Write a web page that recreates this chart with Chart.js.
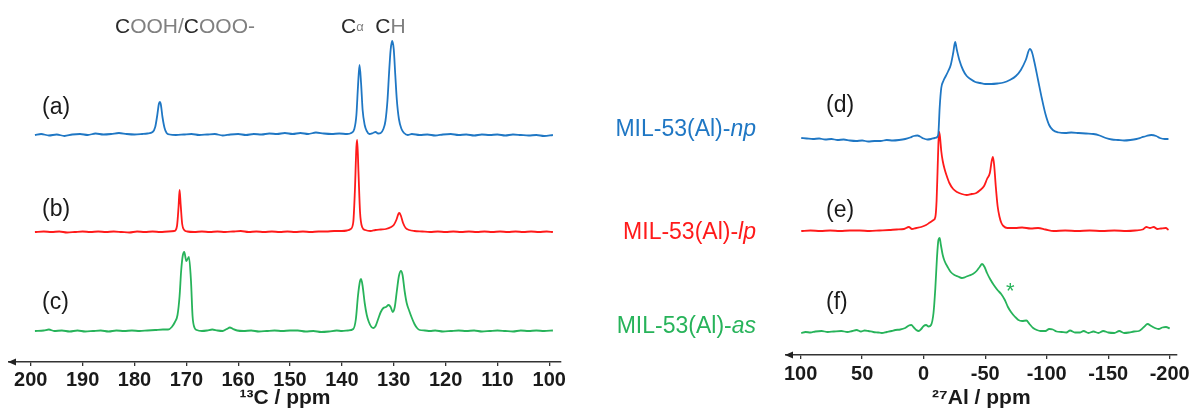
<!DOCTYPE html>
<html>
<head>
<meta charset="utf-8">
<script src="https://cdn.jsdelivr.net/npm/chart.js@4.4.1/dist/chart.umd.min.js"></script>
<style>
  html, body { margin:0; padding:0; background:#fff; width:1193px; height:416px; overflow:hidden; }
  #wrap { position:relative; width:1193px; height:416px; font-family:'Liberation Sans', Arial, sans-serif; }
  canvas { position:absolute; top:0; }
  .t { position:absolute; line-height:0; height:0; white-space:nowrap; }
</style>
</head>
<body>
<div id="wrap">
  <canvas id="c13" width="600" height="416" style="left:0"></canvas>
  <canvas id="al27" width="423" height="416" style="left:770px"></canvas>
</div>
<script>
// ---------- DATA (ppm, intensity above own baseline) ----------
const c13Ticks = [200,190,180,170,160,150,140,130,120,110,100];
const al27Ticks = [100,50,0,-50,-100,-150,-200];
const seriesNames = ['MIL-53(Al)-np','MIL-53(Al)-lp','MIL-53(Al)-as'];
const panelLetters13C = ['(a)','(b)','(c)'];
const panelLetters27Al = ['(d)','(e)','(f)'];
const c13Offsets = [227, 130, 31];
const al27Offsets = [217, 124, 22];

const c13_np = [[199.2,0],[198,1],[196.5,-0.5],[195,0.5],[193.5,-1],[192,0.5],[190.5,1],[189,0],[187.5,1.5],[186,0.5],[184.5,1],[183,2],[181.5,1],[180,0.5],[178.5,1],[177.5,1.5],[176.5,3],[176,8],[175.6,20],[175.3,31],[175.1,33],[174.9,30],[174.6,18],[174.2,7],[173.8,2],[173.2,0.5],[172,0],[170.5,0.5],[169,1],[167.5,0],[166,0.5],[164.5,1],[163,-0.5],[161.5,0.5],[160,1],[158.5,0],[157,1],[155.5,0.5],[154,1.5],[152.5,1],[151,2],[149.5,1],[148,2],[146.5,1],[145,2.5],[143.5,1.5],[142,1],[140.5,1.5],[139,1],[138.2,2],[137.6,6],[137.2,20],[136.9,48],[136.6,70],[136.3,52],[136,25],[135.6,10],[135.2,4],[134.7,1],[134,2],[133.5,3],[133,1.5],[132.5,2],[132,6],[131.6,14],[131.2,35],[130.9,62],[130.6,85],[130.3,94],[130,86],[129.7,60],[129.4,35],[129,16],[128.5,6],[128,2],[127.3,0],[126.5,1],[125,0],[123.5,0.5],[122,-0.5],[120.5,0.5],[119,1],[117.5,0],[116,0.5],[114.5,-0.5],[113,0.5],[111.5,0],[110,0.5],[108.5,-0.5],[107,0.5],[105.5,0],[104,-0.5],[102.5,0],[101,-1],[99.3,0]];

const c13_lp = [[199.2,0],[197.5,0.5],[196,0],[194.5,0.5],[193,-0.5],[191.5,0],[190,0.5],[188.5,0],[187,0.5],[185.5,0],[184,0.5],[182.5,0],[181,-0.5],[179.5,0.5],[178,0],[176.5,0.5],[175,0],[173.5,0.5],[172.3,1],[171.8,6],[171.5,25],[171.3,42],[171.1,28],[170.8,8],[170.4,2],[169.8,0.5],[168.5,0],[167,0.5],[165.5,0],[164,0.5],[162.5,0],[161,0.5],[159.5,1],[158,0],[156.5,0.5],[155,0],[153.5,0.5],[152,0],[150.5,0.5],[149,0],[147.5,0.5],[146,0],[144.5,0.5],[143,0.5],[141.5,1],[140,1],[139,1.5],[138.3,3],[137.8,10],[137.5,40],[137.2,85],[137.05,92],[136.8,60],[136.5,20],[136.1,5],[135.5,2],[134.5,1],[133.5,2],[132.5,2.5],[131.5,3],[130.5,5],[130,7],[129.5,12],[129.1,18],[128.9,19],[128.6,16],[128.2,9],[127.7,4],[127,2],[126,1],[124.5,0.5],[123,0],[121.5,0.5],[120,0],[118.5,0.5],[117,0],[115.5,0.5],[114,0],[112.5,0.5],[111,0],[109.5,0.5],[108,0],[106.5,0.5],[105,0],[103.5,0.5],[102,0],[100.5,0.5],[99.3,0]];

const c13_as = [[199.2,0],[197.5,0.5],[196.5,1.5],[195.5,0],[194,0.5],[192.5,-0.5],[191,0.5],[189.5,-0.5],[188,0],[186.5,0.5],[185,-0.5],[183.5,0.5],[182,0],[180.5,0.5],[179,0],[177.5,0.5],[176,1],[174.5,1.5],[173.5,1.5],[172.8,4],[172.2,9],[171.7,16],[171.3,35],[171,60],[170.7,75],[170.4,79],[170.0,70],[169.5,74],[169.1,50],[168.8,15],[168.4,3],[168,1],[167,0],[166,0.5],[165,1.5],[164,0.5],[163,0],[162.2,2],[161.6,3.5],[161,2],[160.2,0.5],[159,0],[157.5,0.5],[156,-0.5],[154.5,0],[153,0.5],[151.5,0],[150,0.5],[148.5,0.5],[147,-0.5],[145.5,0],[144,-1],[142.5,-0.5],[141,0.5],[140,0],[138.8,0.5],[137.8,2],[137.3,12],[136.9,35],[136.5,50],[136.3,52],[136,45],[135.6,28],[135.2,16],[134.8,9],[134.3,4],[133.9,3],[133.5,5],[133,12],[132.5,19],[132,23],[131.5,24],[131,26],[130.6,24],[130.2,19],[129.8,24],[129.4,40],[129.0,55],[128.6,60],[128.3,56],[127.9,40],[127.5,28],[127,20],[126.5,13],[126,7],[125.5,3],[125,1],[124,0.5],[123,0],[122,0.5],[120.5,-0.5],[119,0],[117.5,0.5],[116,0],[114.5,0.5],[113,-0.5],[111.5,0],[110,0.5],[108.5,0],[107,-0.5],[105.5,0.5],[104,0],[102.5,0.5],[101,0],[99.3,0.5]];

const al27_np = [[99.5,0],[95,-0.5],[90,-1],[85,-0.5],[80,-1.5],[75,-1],[70,-2],[65,-1.5],[60,-2.5],[55,-3],[50,-2.5],[45,-3.5],[40,-3],[35,-3],[30,-2],[25,-2.5],[20,-2],[15,-1],[11,0.5],[8,2],[5,2.5],[3,1.5],[0,-0.5],[-3,-1.5],[-6,-1],[-9,0],[-11,1],[-12,5],[-13,30],[-14.3,50],[-16,57],[-18,62],[-20,67],[-22,73],[-24,85],[-25.6,96],[-27,88],[-29,78],[-32,68],[-35,62],[-38,59],[-42,56],[-46,55],[-50,54],[-55,54],[-60,54.5],[-65,55.5],[-70,58],[-75,62],[-79,68],[-83,78],[-86.3,89],[-88,86],[-90,76],[-93,58],[-96,40],[-99,24],[-102,13],[-105,8],[-110,5.5],[-115,5],[-120,5.5],[-126,5],[-132,4.5],[-138,4],[-143,2.5],[-148,0],[-153,-1.5],[-158,-2],[-163,-2.5],[-168,-2],[-173,-1],[-177,0.5],[-181,2],[-185,3],[-189,2],[-192,0],[-196,-1],[-199,-1]];

const al27_lp = [[99.5,0],[92,0.5],[84,0],[76,0.5],[68,0],[60,0.5],[52,0.5],[44,0],[36,0.5],[28,1],[22,1.5],[16,2],[12,4],[9.5,2],[6,3],[2,4],[-2,6],[-5,8.5],[-8,11],[-9.5,14],[-10.5,30],[-11.3,60],[-12,88],[-12.6,99],[-13.3,94],[-14.3,80],[-15.5,70],[-17,62],[-18.5,56],[-20.9,48],[-24,42],[-27.1,39],[-31,37],[-35,36],[-39,37],[-42.8,38],[-46,41],[-49.1,45],[-51.5,52],[-53.8,58],[-55.3,70],[-56.3,74],[-57.3,66],[-58.6,45],[-60.1,25],[-61.7,14],[-63.2,8],[-64.8,5],[-68,3],[-74.3,3],[-80,3.5],[-87,2.5],[-93,3],[-99,1.5],[-105.8,0],[-115,0.5],[-125,0],[-135,0.5],[-145,0],[-155,0.5],[-165,0],[-172,0.5],[-178,1.5],[-181,4],[-184,3],[-187,4],[-190,2],[-193,2.5],[-196.8,3],[-199,1]];

const al27_as = [[99.5,0],[96,1],[92,0.5],[88,1.5],[83,2],[78,1],[73,1.5],[67,2],[62,1],[58,2],[54.5,3],[51,1.5],[48,2.5],[45,2],[41,1],[37,0.5],[34,0],[30,1],[26,2],[23,3],[19,3.5],[15,5],[12,7.5],[10,8],[8,5.5],[6,3],[4,2],[2,4],[0,7],[-2,8],[-4,6.5],[-6,8],[-8,20],[-9.5,45],[-10.8,75],[-12,93],[-13,95],[-14,88],[-15.5,78],[-17,72],[-19.5,66],[-22,61],[-25,58],[-28,56.5],[-31,55],[-34,56],[-37,57.5],[-40,59],[-43,62],[-45.5,66],[-47.5,69],[-49.5,66],[-51.5,60],[-54,54],[-57,48],[-60,43],[-63,39],[-66,33],[-68.5,26],[-71,21],[-74,16.5],[-77,13],[-80,12],[-83.5,12.5],[-86,9],[-89,5],[-92,3],[-95,2],[-99,2],[-102,4],[-105,3.5],[-108,1.5],[-112,1],[-116,0.5],[-119,2.5],[-123,0.5],[-127,0.5],[-130,2],[-134,0],[-138,1.5],[-142,0],[-146,2],[-150,0.5],[-155,0],[-159,2],[-163,0],[-167,0.5],[-171,1.5],[-175,2],[-179,6],[-182,9],[-185,7],[-188,5],[-191,4],[-194,5.5],[-197,6],[-200,4.5]];

// ---------- STYLE ----------
const COLORS = ['#1f77c4', '#ff1a1a', '#27b35a'];
const FONT = "'Liberation Sans', Arial, sans-serif";
Chart.defaults.font.family = FONT;

const arrowPlugin = {
  id: 'axisArrow',
  afterDraw(chart) {
    const ctx = chart.ctx, a = chart.chartArea;
    ctx.save();
    ctx.fillStyle = '#222';
    ctx.beginPath();
    ctx.moveTo(a.left - 1, a.bottom);
    ctx.lineTo(a.left + 7, a.bottom - 3.5);
    ctx.lineTo(a.left + 7, a.bottom + 3.5);
    ctx.closePath();
    ctx.fill();
    ctx.restore();
  }
};

function makeChart(id, seriesList, offsets, ticks, xmin, xmax, yTop, scaleH, padL, padR, title, tickPad) {
  const datasets = seriesList.map((s, i) => ({
    data: s.map(p => ({ x: p[0], y: offsets[i] + p[1] })),
    borderColor: COLORS[i],
    borderWidth: 1.8,
    pointRadius: 0,
    fill: false,
    cubicInterpolationMode: 'monotone'
  }));
  return new Chart(document.getElementById(id), {
    type: 'line',
    data: { datasets },
    options: {
      responsive: false,
      devicePixelRatio: 1,
      animation: false,
      events: [],
      layout: { padding: { left: padL, right: padR, top: 0, bottom: 0 } },
      plugins: { legend: { display: false }, tooltip: { enabled: false } },
      scales: {
        x: {
          type: 'linear',
          reverse: true,
          min: xmin, max: xmax,
          afterBuildTicks: (sc) => { sc.ticks = ticks.map(v => ({ value: v })); },
          afterFit: (sc) => { sc.height = scaleH; },
          ticks: { color: '#1a1a1a', font: { size: 20, weight: 'bold' }, padding: tickPad, maxRotation: 0, autoSkip: false,
                   callback: (v) => String(v) },
          grid: { drawOnChartArea: false, drawTicks: true, tickLength: 4, color: '#333', lineWidth: 1.3 },
          border: { display: true, color: '#333', width: 1.5 },
          title: { display: true, text: title, color: '#1a1a1a', font: { size: 21, weight: 'bold' }, padding: { top: 0, bottom: 5 } }
        },
        y: { type: 'linear', display: false, min: 0, max: yTop }
      }
    },
    plugins: [arrowPlugin]
  });
}

makeChart('c13', [c13_np, c13_lp, c13_as], c13Offsets, c13Ticks, 97.74, 204.2, 362, 54, 9, 39, '¹³C / ppm', 2);
makeChart('al27', [al27_np, al27_lp, al27_as], al27Offsets, al27Ticks, -205.7, 111.9, 355, 61, 16, 16, '²⁷Al / ppm', 3);

// ---------- TEXT ANNOTATIONS ----------
const wrap = document.getElementById('wrap');
function addText(html, x, y, opts) {
  const d = document.createElement('div');
  d.className = 't';
  d.innerHTML = html;
  d.style.top = y + 'px';
  d.style.fontSize = (opts.size || 22) + 'px';
  d.style.color = opts.color || '#1a1a1a';
  if (opts.bold) d.style.fontWeight = 'bold';
  if (opts.right) { d.style.right = (1193 - x) + 'px'; d.style.textAlign = 'right'; }
  else d.style.left = x + 'px';
  wrap.appendChild(d);
}
const letterY = [106, 208, 301];
const letterY2 = [104, 209, 301];
panelLetters13C.forEach((t, i) => addText(t, 42, letterY[i], { size: 23 }));
panelLetters27Al.forEach((t, i) => addText(t, 826, letterY2[i], { size: 23 }));
const nameY = [128, 231, 325];
const suffix = ['np', 'lp', 'as'];
seriesNames.forEach((n, i) => {
  const base = n.slice(0, n.lastIndexOf('-') + 1);
  addText(base + '<i>' + suffix[i] + '</i>', 756, nameY[i], { size: 23, color: COLORS[i], right: true });
});
addText('<span style="color:#2a2a2a">C</span><span style="color:#808080">OOH/</span><span style="color:#2a2a2a">C</span><span style="color:#808080">OOO-</span>', 115, 26, { size: 21 });
addText('<span style="color:#2a2a2a">C</span><sup style="color:#808080;font-size:13px;position:relative;top:-2px;vertical-align:baseline">α</sup><span style="color:#2a2a2a">&nbsp;&nbsp;C</span><span style="color:#808080">H</span>', 341, 26, { size: 21 });
addText('*', 1006, 291, { size: 22, color: COLORS[2] });
</script>
</body>
</html>
